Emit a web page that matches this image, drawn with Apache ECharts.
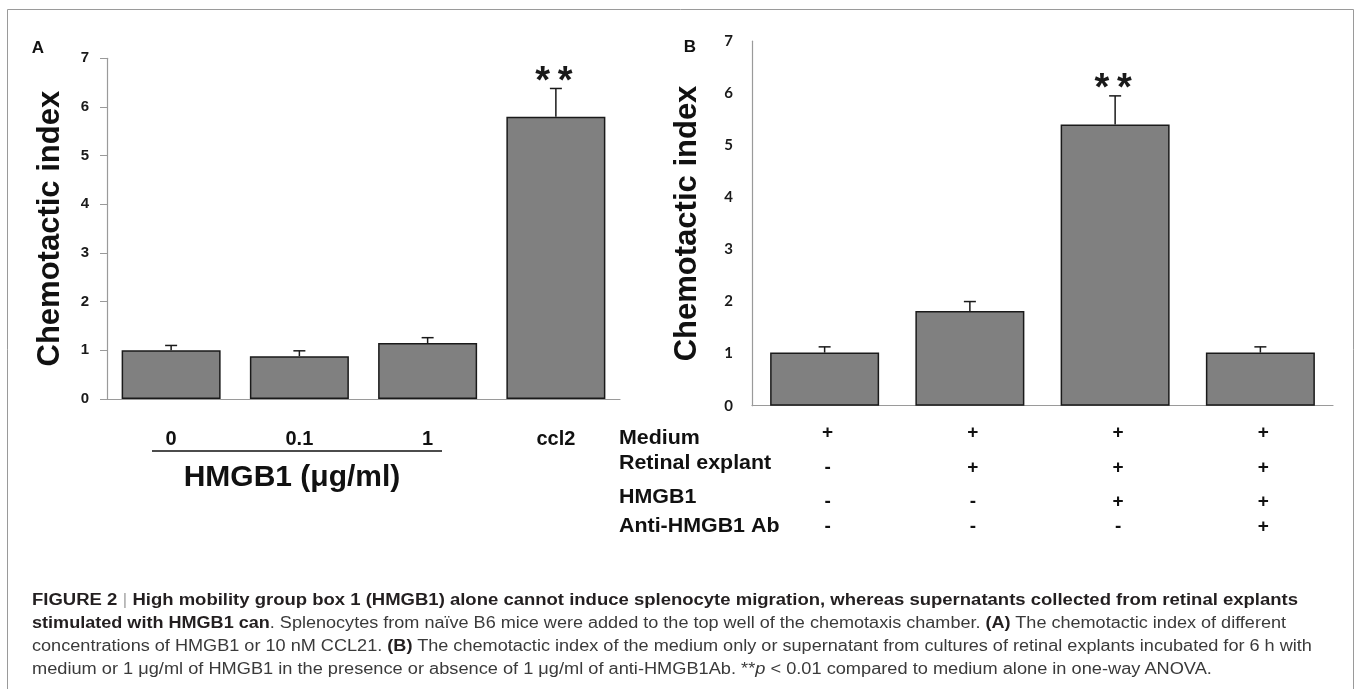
<!DOCTYPE html>
<html lang="en">
<head>
<meta charset="utf-8">
<title>HMGB1 chemotaxis</title>
<script src="https://cdn.jsdelivr.net/npm/echarts@6/dist/echarts.min.js"></script>
<style>
    html, body { margin: 0; padding: 0; background: #fff; }
    #wrap { position: relative; width: 1357px; height: 689px; overflow: hidden; }
    #main { width: 1357px; height: 689px; }
    .cap { position: absolute; left: 32px; white-space: nowrap; font-family: "Liberation Sans", Arial, sans-serif;
           font-size: 16px; line-height: 20px; color: #3a3a3a; transform-origin: 0 50%; }
    .cap b { color: #231f20; }
    .cap .bar { color: #aaa; font-weight: normal; }
</style>
</head>
<body>
<div id="wrap">
    <div id="main"></div>
    <div class="cap" data-w="1266" style="top:590px"><b>FIGURE 2 <span class="bar">|</span> High mobility group box 1 (HMGB1) alone cannot induce splenocyte migration, whereas supernatants collected from retinal explants</b></div>
    <div class="cap" data-w="1254" style="top:613px"><b>stimulated with HMGB1 can</b>. Splenocytes from naïve B6 mice were added to the top well of the chemotaxis chamber. <b>(A)</b> The chemotactic index of different</div>
    <div class="cap" data-w="1280" style="top:636px">concentrations of HMGB1 or 10 nM CCL21. <b>(B)</b> The chemotactic index of the medium only or supernatant from cultures of retinal explants incubated for 6 h with</div>
    <div class="cap" data-w="1180" style="top:659px">medium or 1 μg/ml of HMGB1 in the presence or absence of 1 μg/ml of anti-HMGB1Ab. **<i>p</i> &lt; 0.01 compared to medium alone in one-way ANOVA.</div>
</div>
<script>
    // panel A
    var catsA = ['0', '0.1', '1', 'ccl2'];
    var meanA = [1.0, 0.88, 1.15, 5.8];
    var errA = [0.10, 0.11, 0.11, 0.58];
    var sigA = ['', '', '', '*\u2009*'];
    // panel B
    var catsB = ['c1', 'c2', 'c3', 'c4'];
    var meanB = [1.02, 1.82, 5.4, 1.02];
    var errB = [0.11, 0.18, 0.55, 0.11];
    var sigB = ['', '', '*\u2009*', ''];
    var yTicks = [0, 1, 2, 3, 4, 5, 6, 7];
    var rowLabels = ['Medium', 'Retinal explant', 'HMGB1', 'Anti-HMGB1 Ab'];
    var rowSigns = [
        ['+', '+', '+', '+'],
        ['-', '+', '+', '+'],
        ['-', '-', '+', '+'],
        ['-', '-', '-', '+']
    ];

    var FONT = '"Liberation Sans", Arial, sans-serif';

    function errData(mean, err) {
        return mean.map(function (m, i) { return [i, m, m + err[i]]; });
    }

    function makeErr(sig) {
        return function (params, api) {
            var i = api.value(0);
            var base = api.coord([i, api.value(1)]);
            var top = api.coord([i, api.value(2)]);
            var st = { stroke: '#1a1a1a', lineWidth: 1.5 };
            var kids = [
                { type: 'line', shape: { x1: base[0], y1: base[1], x2: top[0], y2: top[1] }, style: st },
                { type: 'line', shape: { x1: top[0] - 6, y1: top[1], x2: top[0] + 6, y2: top[1] }, style: st }
            ];
            if (sig[params.dataIndex]) {
                // asterisks sit ~14px above the cap
                kids.push({
                    type: 'text', x: top[0] - 2, y: top[1] - 6,
                    style: { text: sig[params.dataIndex], font: 'bold 38px ' + FONT, fill: '#1a1a1a',
                             align: 'center', verticalAlign: 'middle' }
                });
            }
            return { type: 'group', children: kids };
        };
    }

    var chart = echarts.init(document.getElementById('main'));
    chart.setOption({
        animation: false,
        backgroundColor: '#fff',
        grid: [
            { left: 107, top: 58.3, width: 513, height: 340.7 },
            { left: 752, top: 41.2, width: 581, height: 364.5 }
        ],
        xAxis: [
            {
                type: 'category', gridIndex: 0, data: catsA,
                axisLine: { lineStyle: { color: '#9a9a9a', width: 1.2 } },
                axisTick: { show: false },
                axisLabel: { margin: 30, fontFamily: FONT, fontWeight: 'bold', fontSize: 20, color: '#111' }
            },
            {
                type: 'category', gridIndex: 1, data: catsB,
                axisLine: { lineStyle: { color: '#9a9a9a', width: 1.2 } },
                axisTick: { show: false },
                axisLabel: { show: false }
            }
        ],
        yAxis: [
            {
                type: 'value', gridIndex: 0, min: 0, max: 7, interval: 1,
                name: 'Chemotactic index', nameLocation: 'middle', nameGap: 41, nameRotate: 90,
                nameTextStyle: { fontFamily: FONT, fontWeight: 'bold', fontSize: 31, color: '#111' },
                axisLine: { show: true, lineStyle: { color: '#9a9a9a', width: 1.2 } },
                axisTick: { show: true, length: 7, lineStyle: { color: '#9a9a9a' } },
                axisLabel: { margin: 18, fontFamily: FONT, fontWeight: 'bold', fontSize: 15, color: '#1a1a1a' },
                splitLine: { show: false }
            },
            {
                type: 'value', gridIndex: 1, min: 0, max: 7, interval: 1,
                name: 'Chemotactic index', nameLocation: 'middle', nameGap: 49, nameRotate: 90,
                nameTextStyle: { fontFamily: FONT, fontWeight: 'bold', fontSize: 31, color: '#111' },
                axisLine: { show: true, lineStyle: { color: '#9a9a9a', width: 1.2 } },
                axisTick: { show: false },
                axisLabel: { margin: 19, fontFamily: 'Lato, ' + FONT, fontWeight: 'bold', fontSize: 15, color: '#1a1a1a' },
                splitLine: { show: false }
            }
        ],
        series: [
            {
                type: 'bar', xAxisIndex: 0, yAxisIndex: 0, data: meanA, barWidth: 99,
                itemStyle: { color: '#808080', borderColor: '#1a1a1a', borderWidth: 1.5 }
            },
            {
                type: 'custom', xAxisIndex: 0, yAxisIndex: 0, data: errData(meanA, errA),
                renderItem: makeErr(sigA), z: 3
            },
            {
                type: 'bar', xAxisIndex: 1, yAxisIndex: 1, data: meanB, barWidth: 109,
                itemStyle: { color: '#808080', borderColor: '#1a1a1a', borderWidth: 1.5 }
            },
            {
                type: 'custom', xAxisIndex: 1, yAxisIndex: 1, data: errData(meanB, errB),
                renderItem: makeErr(sigB), z: 3
            }
        ]
    });

    // frame, panel letters, panel A group label, panel B condition table
    var gfx = [
        { type: 'rect', shape: { x: 7.5, y: 9.5, width: 1346, height: 700 },
          style: { fill: 'none', stroke: '#9a9a9a', lineWidth: 1 }, silent: true },
        { type: 'text', x: 38, y: 48, style: { text: 'A', font: 'bold 17px ' + FONT, fill: '#111', align: 'center', verticalAlign: 'middle' } },
        { type: 'text', x: 690, y: 47, style: { text: 'B', font: 'bold 17px ' + FONT, fill: '#111', align: 'center', verticalAlign: 'middle' } },
        { type: 'line', shape: { x1: 152, y1: 451, x2: 442, y2: 451 }, style: { stroke: '#111', lineWidth: 1.5 } },
        { type: 'text', x: 292, y: 478, style: { text: 'HMGB1 (\u03bcg/ml)', font: 'bold 30px ' + FONT, fill: '#111', align: 'center', verticalAlign: 'middle' } }
    ];
    var rowY = [438, 463, 497, 526];
    var signY = [433, 468, 502, 527];
    rowLabels.forEach(function (lab, r) {
        gfx.push({ type: 'text', x: 619, y: rowY[r], scaleX: 1.07,
            style: { text: lab, font: 'bold 20px ' + FONT, fill: '#111', align: 'left', verticalAlign: 'middle' } });
        rowSigns[r].forEach(function (s, c) {
            var px = chart.convertToPixel({ xAxisIndex: 1 }, c);
            gfx.push({ type: 'text', x: px + 3, y: signY[r],
                style: { text: s, font: 'bold 19px ' + FONT, fill: '#111', align: 'center', verticalAlign: 'middle' } });
        });
    });
    chart.setOption({ graphic: gfx });

    // squeeze each caption line to the width it has in the figure
    document.querySelectorAll('.cap').forEach(function (el) {
        var k = (+el.getAttribute('data-w')) / el.offsetWidth;
        el.style.transform = 'scaleX(' + k + ')';
    });
</script>
</body>
</html>
